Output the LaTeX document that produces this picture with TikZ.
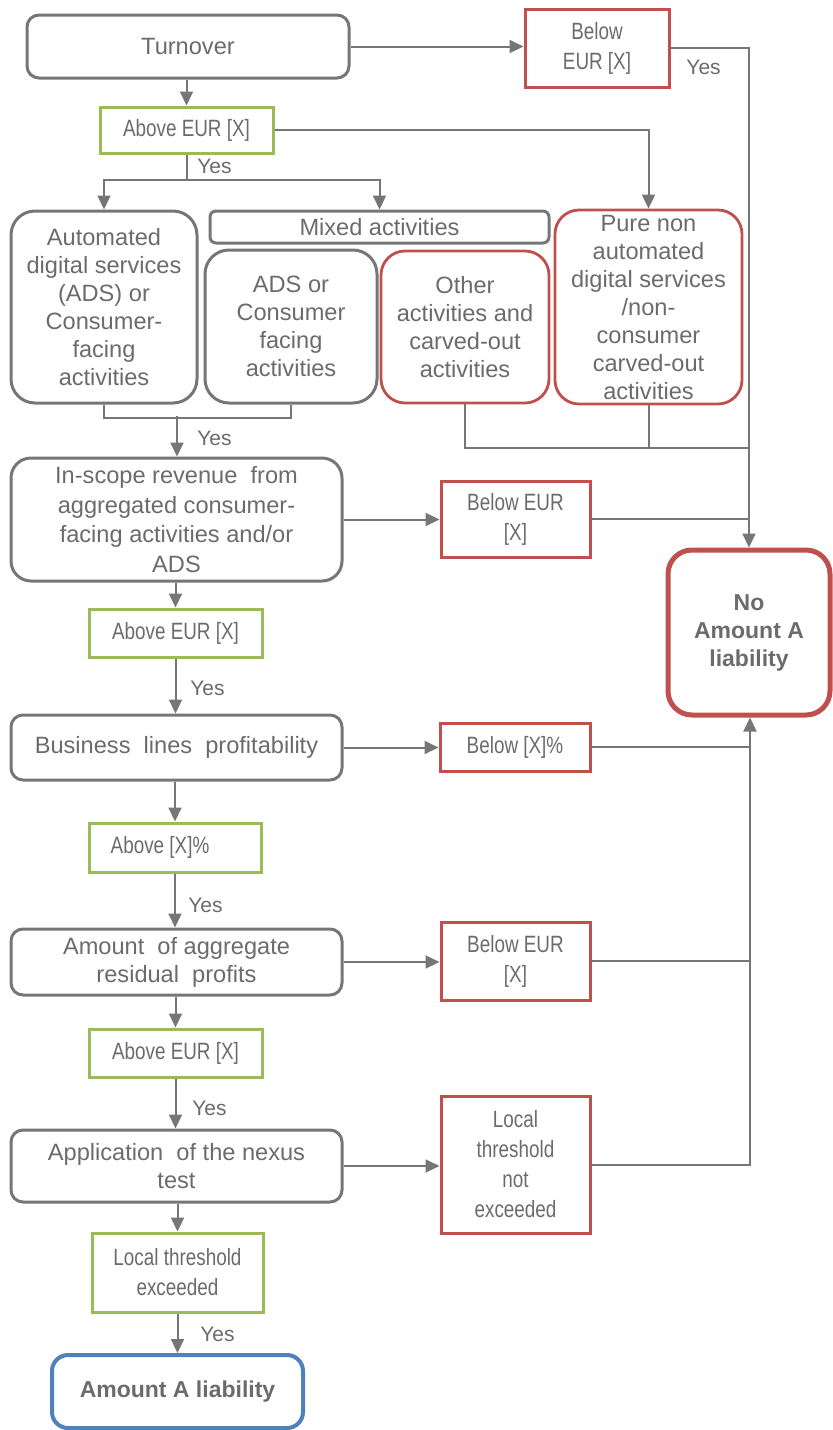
\documentclass[tikz,border=0pt]{standalone}
\usepackage{fontspec}
\setmainfont{Liberation Sans}
\newfontfamily\narrowfont[FakeStretch=0.8]{Liberation Sans}
\usetikzlibrary{arrows.meta}
\definecolor{tgrey}{HTML}{6B6B6B}
\definecolor{lgrey}{HTML}{767676}
\definecolor{bred}{HTML}{C0504D}
\definecolor{bgreen}{HTML}{9BBB59}
\definecolor{bblue}{HTML}{4F81BD}
\begin{document}
\begin{tikzpicture}[x=0.5pt,y=-0.5pt,
  base/.style={align=center, text=tgrey, inner sep=0pt, font=\fontsize{11.8}{14}\selectfont},
  greybox/.style={base, draw=lgrey, line width=1.5pt, rounded corners=#1},
  greybox/.default=6pt,
  redround/.style={base, draw=bred, line width=1.4pt, rounded corners=12pt},
  redbox/.style={base, draw=bred, line width=1.5pt, font=\narrowfont\fontsize{11.8}{15}\selectfont},
  greenbox/.style={base, draw=bgreen, line width=1.5pt, font=\narrowfont\fontsize{11.8}{15}\selectfont},
  conn/.style={draw=lgrey, line width=1pt},
  arr/.style={conn, -{Triangle[length=7pt,width=6.5pt]}},
  yes/.style={text=tgrey, font=\fontsize{10.5}{12}\selectfont, inner sep=0pt, anchor=west}]
\useasboundingbox (0,0) rectangle (832,1430);

% nodes
\node[greybox, minimum width=161pt, minimum height=31.5pt] (turn) at (188,46.5) {Turnover};
\node[redbox, minimum width=72pt, minimum height=39pt] (below1) at (597,48) {Below\\EUR [X]};
\node[greenbox, minimum width=86.5pt, minimum height=23pt] (above1) at (186.5,130) {Above EUR [X]};
\node[greybox=12pt, minimum width=93pt, minimum height=96pt] (auto) at (104,307) {Automated\\digital services\\(ADS) or\\Consumer-\\facing\\activities};
\node[greybox=3pt, minimum width=169.5pt, minimum height=16pt] (mixed) at (379.5,227) {Mixed activities};
\node[greybox=12pt, minimum width=86pt, minimum height=76.5pt] (ads) at (291,326.5) {ADS or\\Consumer\\facing\\activities};
\node[redround, minimum width=84pt, minimum height=76pt] (other) at (465,327) {Other\\activities and\\carved-out\\activities};
\node[redround, minimum width=93.5pt, minimum height=97pt] (pure) at (648.5,307) {Pure non\\automated\\digital services\\/non-\\consumer\\carved-out\\activities};
\node[greybox=10pt, minimum width=165.5pt, minimum height=61.5pt, font=\fontsize{11.8}{14.7}\selectfont] (inscope) at (176.5,519.5) {In-scope revenue\ \ from\\aggregated consumer-\\facing activities and/or\\ADS};
\node[redbox, minimum width=74.5pt, minimum height=38pt] (below2) at (515.5,519) {Below EUR\\{[X]}};
\node[greenbox, minimum width=86.5pt, minimum height=24pt] (above2) at (175.5,633) {Above EUR [X]};
\node[greybox, minimum width=165.5pt, minimum height=32.5pt] (business) at (176.5,747.5) {Business\ \ lines\ \ profitability};
\node[redbox, minimum width=75pt, minimum height=24pt] (belowpct) at (515,747) {Below [X]\%};
\node[base, draw=bred, line width=2.5pt, rounded corners=12pt, minimum width=81pt, minimum height=82.5pt, font=\bfseries\fontsize{11.5}{14}\selectfont] (noA) at (749,632.5) {No\\Amount A\\liability};
\node[greenbox, minimum width=86pt, minimum height=24.5pt] (abovepct) at (175,847.5) {Above [X]\%\hspace{15pt}};
\node[greybox, minimum width=165.5pt, minimum height=33pt] (amount) at (176.5,962) {Amount\ \ of aggregate\\residual\ \ profits};
\node[redbox, minimum width=74.5pt, minimum height=39pt] (below3) at (515.5,961) {Below EUR\\{[X]}};
\node[greenbox, minimum width=86.5pt, minimum height=24pt] (above3) at (175.5,1053) {Above EUR [X]};
\node[greybox, minimum width=165.5pt, minimum height=36pt] (app) at (176.5,1166) {Application\ \ of the nexus\\test};
\node[redbox, minimum width=74.5pt, minimum height=68.5pt] (local) at (515.5,1164.5) {Local\\threshold\\not\\exceeded};
\node[greenbox, minimum width=85.5pt, minimum height=39.5pt] (localex) at (177.5,1272.5) {Local threshold\\exceeded};
\node[base, draw=bblue, line width=2pt, rounded corners=8pt, minimum width=125.5pt, minimum height=36.5pt, font=\bfseries\fontsize{11.5}{14}\selectfont] (amountA) at (177.5,1391.5) {Amount A liability};

% junction coordinates
\coordinate (split) at (186.5,180);
\coordinate (br) at (177,416);
\coordinate (j1) at (750,448);

% connectors
\draw[arr] (turn.east) -- (turn.east -| below1.west);
\draw[arr] (below1.east) -| (noA.north);
\draw[arr] (above1.north |- turn.south) -- (above1.north);
\draw[arr] (above1.east) -| (pure.north);
\draw[conn] (above1.south) -- (split);
\draw[arr] (split) -| (auto.north);
\draw[arr] (split) -| (mixed.north);
\draw[conn] (auto.south) -- ++(0,13) -| (ads.south);
\draw[arr] (br) -- (br |- inscope.north);
\draw[conn] (other.south) |- (j1);
\draw[conn] (pure.south) -- (pure.south |- j1);
\draw[arr] (inscope.east) -- (inscope.east -| below2.west);
\draw[conn] (below2.east) -- (below2.east -| j1);
\draw[arr] (inscope.south -| above2.north) -- (above2.north);
\draw[arr] (above2.south) -- (above2.south |- business.north);
\draw[arr] (business.east) -- (business.east -| belowpct.west);
\draw[conn] (belowpct.east) -- (belowpct.east -| j1);
\draw[arr] (abovepct.north |- business.south) -- (abovepct.north);
\draw[arr] (abovepct.south) -- (abovepct.south |- amount.north);
\draw[arr] (amount.east) -- (amount.east -| below3.west);
\draw[conn] (below3.east) -- (below3.east -| j1);
\draw[arr] (above3.north |- amount.south) -- (above3.north);
\draw[arr] (above3.south) -- (above3.south |- app.north);
\draw[arr] (app.east) -- (app.east -| local.west);
\draw[arr] (local.east) -| (noA.south -| j1);
\draw[arr] (localex.north |- app.south) -- (localex.north);
\draw[arr] (localex.south) -- (localex.south |- amountA.north);

% Yes labels
\node[yes] (y1) at (686,67) {Yes};
\node[yes] (y2) at (197,166) {Yes};
\node[yes] (y3) at (197,438) {Yes};
\node[yes] (y4) at (190,688) {Yes};
\node[yes] (y5) at (188,905) {Yes};
\node[yes] (y6) at (192,1108) {Yes};
\node[yes] (y7) at (200,1334) {Yes};
\end{tikzpicture}
\end{document}
